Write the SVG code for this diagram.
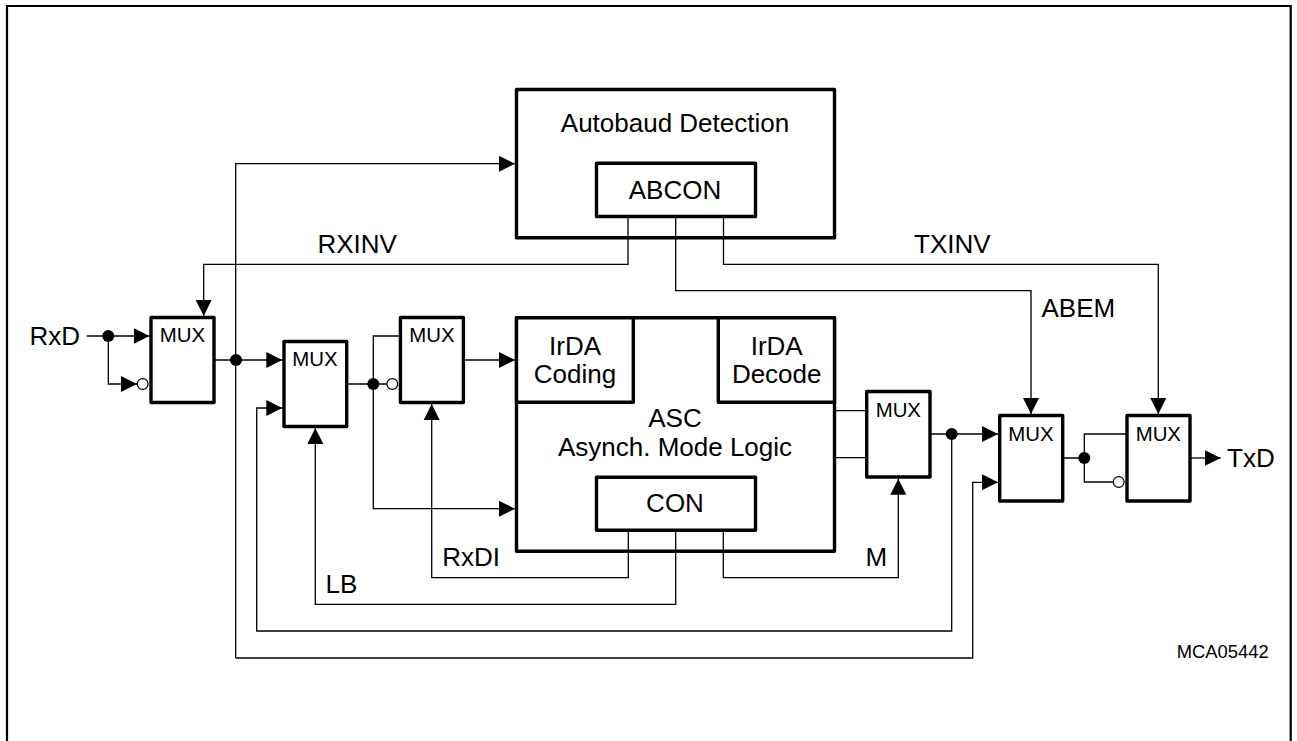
<svg xmlns="http://www.w3.org/2000/svg" width="1297" height="741" viewBox="0 0 1297 741">
<style>
text{font-family:"Liberation Sans",Arial,sans-serif;fill:#000;font-size:26px}
.m{font-size:20.4px;text-anchor:middle}
.c{text-anchor:middle}
.b{fill:#fff;stroke:#000;stroke-width:3.4;stroke-linejoin:round}
.w{fill:none;stroke:#000;stroke-width:1.3}
.a{marker-end:url(#arrow)}
.d{fill:#000}
.i{fill:#fff;stroke:#000;stroke-width:1.2}
</style>
<defs>
<marker id="arrow" markerUnits="userSpaceOnUse" markerWidth="17" markerHeight="17" refX="16" refY="8" orient="auto" viewBox="0 0 17 16">
<path d="M0 0L16 8L0 16Z" fill="#000"/>
</marker>
</defs>
<rect width="1297" height="741" fill="#fff"/>
<path id="frame" d="M7 741V6H1290.7V741" fill="none" stroke="#000" stroke-width="2.2"/>
<g id="autobaud">
<rect class="b" x="516.5" y="89.5" width="318" height="148.3"/>
<text class="c" x="675" y="131.7">Autobaud Detection</text>
</g>
<g id="abcon">
<rect class="b" x="596.5" y="163.2" width="159" height="53.3"/>
<text class="c" x="675" y="199.3">ABCON</text>
</g>
<g id="asc">
<rect class="b" x="516.5" y="317.7" width="318" height="233.5"/>
<text class="c" x="675" y="426.7">ASC</text>
<text class="c" x="675" y="455.7">Asynch. Mode Logic</text>
</g>
<g id="irda-coding">
<rect class="b" x="516.5" y="317.7" width="116.8" height="84.6"/>
<text class="c" x="575" y="355">IrDA</text>
<text class="c" x="575" y="383.3">Coding</text>
</g>
<g id="irda-decode">
<rect class="b" x="718.3" y="317.7" width="116.2" height="84.6"/>
<text class="c" x="776.7" y="355">IrDA</text>
<text class="c" x="776.7" y="383.3">Decode</text>
</g>
<g id="con">
<rect class="b" x="596.5" y="477.3" width="159" height="53"/>
<text class="c" x="675" y="512.3">CON</text>
</g>
<g id="mux1"><rect class="b" x="151" y="317.5" width="63" height="85"/><text class="m" x="182.5" y="341.7">MUX</text></g>
<g id="mux2"><rect class="b" x="284" y="341.5" width="62.7" height="85"/><text class="m" x="315" y="365.7">MUX</text></g>
<g id="mux3"><rect class="b" x="400.4" y="317.5" width="63" height="85"/><text class="m" x="432" y="341.7">MUX</text></g>
<g id="mux4"><rect class="b" x="866.7" y="391.5" width="63.3" height="85.5"/><text class="m" x="898.3" y="416.7">MUX</text></g>
<g id="mux5"><rect class="b" x="999.7" y="415.5" width="63" height="85.5"/><text class="m" x="1031" y="440.7">MUX</text></g>
<g id="mux6"><rect class="b" x="1127" y="415.5" width="63" height="85.5"/><text class="m" x="1158.3" y="440.7">MUX</text></g>
<g id="connectors">
<path class="w a" d="M86.7 336H149.5"/>
<path class="w a" d="M108.3 336V384H137"/>
<path class="w a" d="M214 360H282.3"/>
<path class="w" d="M346.7 384H387"/>
<path class="w" d="M373.3 384V336H400.4"/>
<path class="w a" d="M373.3 384V508.7H515"/>
<path class="w a" d="M463.4 360H515"/>
<path class="w a" d="M235.7 658V163.7H515"/>
<path class="w a" d="M235.7 658H972.7V482.3H998"/>
<path class="w a" d="M951.7 434V631H256.7V408H282.3"/>
<path class="w a" d="M628.3 530.3V577.7H431.7V404"/>
<path class="w a" d="M675.7 530.3V604.3H315.3V428"/>
<path class="w a" d="M723.3 530.3V577.7H898.3V478.7"/>
<path class="w a" d="M628 216.5V264.3H203.7V316"/>
<path class="w a" d="M675.7 216.5V290.7H1031V414"/>
<path class="w a" d="M723.5 216.5V264.3H1158.3V414"/>
<path class="w" d="M834.5 410.7H866.7M834.5 457.7H866.7"/>
<path class="w a" d="M930 434H998"/>
<path class="w" d="M1062.7 458H1084.3M1127 434H1084.3V482H1113"/>
<path class="w a" d="M1190 458H1220.7"/>
<circle class="d" cx="108.3" cy="336" r="6"/>
<circle class="d" cx="236" cy="360" r="6"/>
<circle class="d" cx="373.3" cy="384" r="6"/>
<circle class="d" cx="951.7" cy="434" r="6"/>
<circle class="d" cx="1084.3" cy="458" r="6"/>
<circle class="i" cx="142.7" cy="384" r="5.4"/>
<circle class="i" cx="392.3" cy="384" r="5.4"/>
<circle class="i" cx="1118.7" cy="482" r="5.4"/>
</g>
<text x="29.5" y="345.3">RxD</text>
<text x="1227" y="466.7">TxD</text>
<text x="317.5" y="252.7">RXINV</text>
<text x="914" y="252.7">TXINV</text>
<text x="1041.5" y="317.3">ABEM</text>
<text x="442.2" y="565.7">RxDI</text>
<text x="325.5" y="593">LB</text>
<text x="865.5" y="566">M</text>
<text x="1176.7" y="657.7" style="font-size:18.4px">MCA05442</text>
</svg>
